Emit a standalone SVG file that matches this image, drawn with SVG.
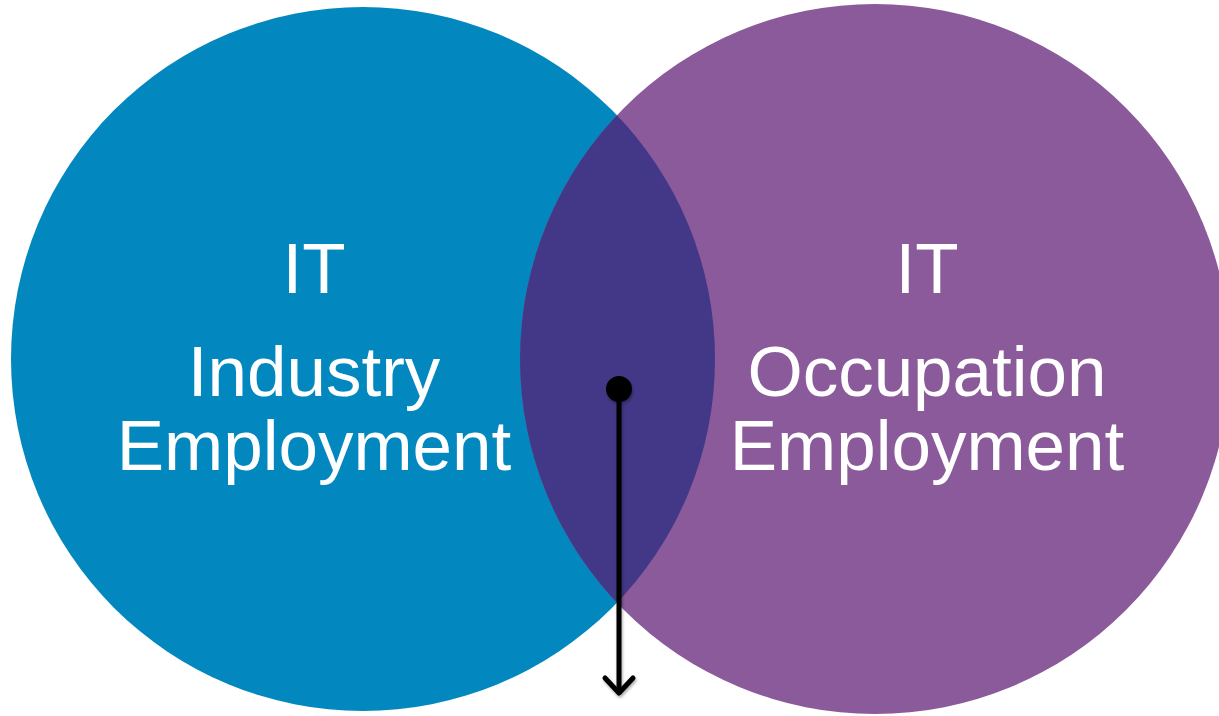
<svg xmlns="http://www.w3.org/2000/svg" width="1219" height="716" viewBox="0 0 1219 716">
  <style>
    .label { font-family: "Liberation Sans", Arial, sans-serif; font-size: 71px; fill: #ffffff; text-anchor: middle; }
    .connector { stroke: #000000; stroke-width: 5; fill: none; }
  </style>
  <defs>
    <clipPath id="leftClip">
      <circle cx="363" cy="359" r="352"/>
    </clipPath>
    <filter id="softShadow" x="-50%" y="-10%" width="200%" height="120%">
      <feGaussianBlur in="SourceAlpha" stdDeviation="1.5"/>
      <feOffset dx="1" dy="2" result="blur"/>
      <feComponentTransfer><feFuncA type="linear" slope="0.35"/></feComponentTransfer>
      <feMerge><feMergeNode/><feMergeNode in="SourceGraphic"/></feMerge>
    </filter>
  </defs>

  <rect width="1219" height="716" fill="#ffffff"/>

  <g id="industry">
    <circle cx="363" cy="359" r="352" fill="#0288be"/>
    <text class="label" x="314" y="293">IT</text>
    <text class="label" x="314" y="396">Industry</text>
    <text class="label" x="314" y="470">Employment</text>
  </g>

  <g id="occupation">
    <circle cx="875" cy="359" r="355" fill="#8b5a9a"/>
    <text class="label" x="927" y="293">IT</text>
    <text class="label" x="927" y="396">Occupation</text>
    <text class="label" x="927" y="470">Employment</text>
  </g>

  <!-- lens where both circles overlap -->
  <g id="overlap">
    <circle cx="875" cy="359" r="355" fill="#433887" clip-path="url(#leftClip)"/>
  </g>

  <g id="connectors" filter="url(#softShadow)">
    <circle cx="619" cy="389" r="13" fill="#000000"/>
    <line class="connector" x1="619" y1="389" x2="619" y2="692"/>
    <polyline class="connector" points="605,678 619,693 633,678" stroke-linecap="round" stroke-linejoin="round"/>
  </g>
</svg>
